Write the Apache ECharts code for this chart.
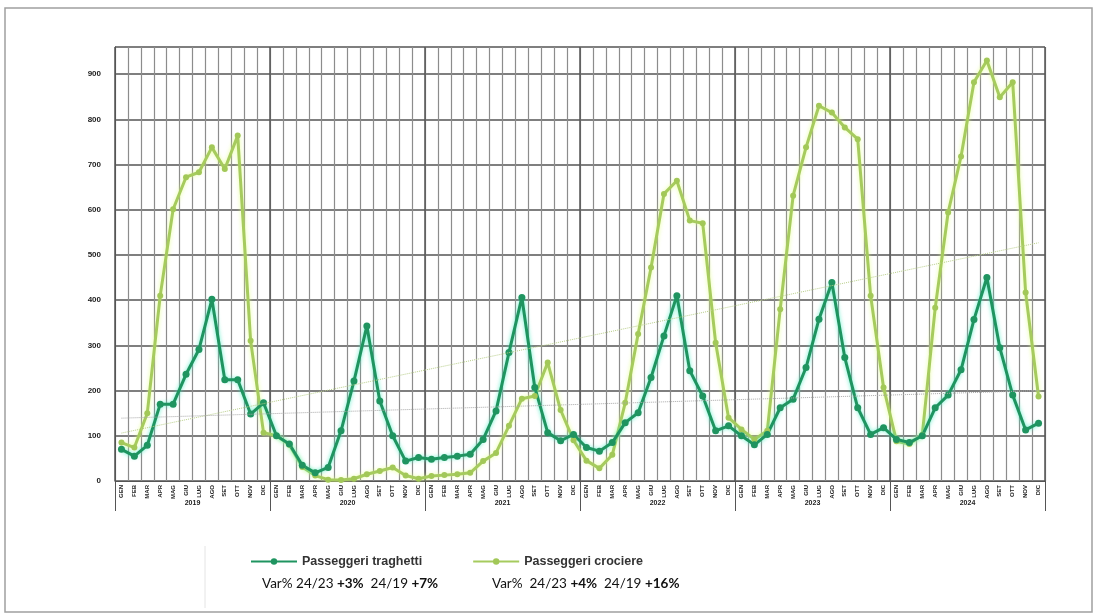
<!DOCTYPE html>
<html>
<head>
<meta charset="utf-8">
<script src="https://cdn.jsdelivr.net/npm/echarts@6/dist/echarts.min.js"></script>
<style>
html, body { margin: 0; padding: 0; background: #fff; }
#chart { width: 1097px; height: 614px; }
</style>
</head>
<body>
<div id="chart"></div>
<script>
const years = ['2019', '2020', '2021', '2022', '2023', '2024']
const months = ['GEN', 'FEB', 'MAR', 'APR', 'MAG', 'GIU', 'LUG', 'AGO', 'SET', 'OTT', 'NOV', 'DIC']

// migliaia di passeggeri, mese per mese 2019-2024
const traghetti = [
  70, 55, 79, 170, 170, 236, 291, 402, 224, 224, 148, 173,
  100, 82, 35, 18, 30, 111, 221, 343, 177, 100, 44, 52,
  48, 52, 55, 59, 92, 155, 284, 406, 207, 107, 89, 103,
  74, 66, 85, 129, 151, 229, 321, 410, 244, 188, 111, 122,
  100, 80, 103, 162, 181, 251, 358, 439, 273, 162, 103, 118,
  92, 85, 100, 162, 190, 246, 357, 450, 295, 190, 113, 128
]
const crociere = [
  85, 74, 150, 410, 601, 672, 683, 738, 690, 764, 310, 107,
  100, 80, 31, 12, 3, 2, 5, 15, 22, 30, 12, 5,
  11, 13, 15, 18, 44, 62, 122, 182, 188, 262, 157, 90,
  45, 28, 58, 173, 325, 472, 635, 664, 576, 570, 306, 140,
  114, 92, 111, 380, 631, 738, 830, 815, 782, 756, 410, 207,
  88, 82, 102, 383, 594, 718, 882, 930, 849, 882, 417, 187
]
// linee di tendenza (inizio, fine)
const trendTraghetti = [139, 200]
const trendCrociere = [106, 527]

const varTraghetti = ['+3%', '+7%']
const varCrociere = ['+4%', '+16%']

const chart = echarts.init(document.getElementById('chart'))

let categories = []
years.forEach((y) => {
  months.forEach((m) => {
    categories.push(m + '|' + y)
  })
})
const first = categories[0]
const last = categories[categories.length - 1]

function trendLine(vals, color) {
  return {
    silent: true,
    symbol: 'none',
    label: { show: false },
    lineStyle: { type: 'dotted', width: 1, color: color },
    data: [[{ coord: [first, vals[0]] }, { coord: [last, vals[1]] }]]
  }
}

let option = {
  backgroundColor: '#fff',
  animation: false,
  grid: {
    left: 115,
    right: 52,
    top: 47,
    bottom: 133
  },
  legend: {
    data: ['Passeggeri traghetti', 'Passeggeri crociere'],
    left: 245,
    top: 550,
    itemWidth: 46,
    itemHeight: 8,
    itemGap: 50,
    textStyle: {
      fontFamily: 'Liberation Sans',
      fontWeight: 'bold',
      fontSize: 12.5,
      color: '#333'
    }
  },
  xAxis: [
    {
      type: 'category',
      data: categories,
      boundaryGap: true,
      axisLine: { lineStyle: { color: '#555' } },
      axisTick: { show: false },
      splitLine: {
        show: true,
        interval: 0,
        lineStyle: { color: '#8c8c8c', width: 1.2 }
      },
      axisLabel: {
        interval: 0,
        rotate: 90,
        margin: 4,
        fontSize: 6,
        fontWeight: 'bold',
        color: '#222',
        formatter: (v) => v.split('|')[0]
      }
    },
    {
      type: 'category',
      data: years,
      position: 'bottom',
      boundaryGap: true,
      axisLine: { show: false },
      axisTick: {
        show: true,
        interval: 0,
        length: 30,
        lineStyle: { color: '#555' }
      },
      splitLine: {
        show: true,
        interval: 0,
        lineStyle: { color: '#555', width: 1.5 }
      },
      axisLabel: {
        margin: 19,
        fontSize: 7,
        fontWeight: 'bold',
        color: '#222'
      }
    }
  ],
  yAxis: {
    type: 'value',
    min: 0,
    max: 960,
    interval: 100,
    axisLine: { show: true, lineStyle: { color: '#555' } },
    axisTick: { show: false },
    splitLine: { lineStyle: { color: '#555', width: 1.5 } },
    axisLabel: {
      margin: 14,
      fontSize: 8,
      fontWeight: 'bold',
      color: '#222',
      showMaxLabel: false
    }
  },
  series: [
    {
      name: 'Passeggeri crociere',
      type: 'line',
      data: crociere,
      symbol: 'circle',
      symbolSize: 6,
      lineStyle: {
        color: '#a6cb5e',
        width: 3,
        shadowColor: 'rgba(225,255,130,0.8)',
        shadowBlur: 4
      },
      itemStyle: { color: '#a2c858' },
      markLine: trendLine(trendCrociere, '#b9cf8a')
    },
    {
      name: 'Passeggeri traghetti',
      type: 'line',
      data: traghetti,
      symbol: 'circle',
      symbolSize: 7,
      lineStyle: {
        color: '#1f9460',
        width: 3,
        shadowColor: 'rgba(60,235,190,0.8)',
        shadowBlur: 4
      },
      itemStyle: { color: '#1f9460' },
      markLine: trendLine(trendTraghetti, '#a9a9a9')
    }
  ],
  graphic: [
    {
      type: 'rect',
      shape: { x: 5, y: 8, width: 1087, height: 604 },
      style: { fill: 'none', stroke: '#a0a0a0', lineWidth: 1.5 },
      silent: true
    },
    {
      type: 'line',
      shape: { x1: 205, y1: 546, x2: 205, y2: 608 },
      style: { stroke: '#e4e4e4', lineWidth: 1 },
      silent: true
    },
    {
      type: 'text',
      left: 262,
      top: 577,
      style: {
        text: 'Var% 24/23 {b|' + varTraghetti[0] + '}  24/19 {b|' + varTraghetti[1] + '}',
        font: '13.5px Lato',
        fill: '#111',
        rich: { b: { fontWeight: 'bold', fontFamily: 'Lato', fontSize: 13.5, fill: '#111' } }
      }
    },
    {
      type: 'text',
      left: 492,
      top: 577,
      style: {
        text: 'Var%  24/23 {b|' + varCrociere[0] + '}  24/19 {b|' + varCrociere[1] + '}',
        font: '13.5px Lato',
        fill: '#111',
        rich: { b: { fontWeight: 'bold', fontFamily: 'Lato', fontSize: 13.5, fill: '#111' } }
      }
    }
  ]
}
chart.setOption(option)
</script>
</body>
</html>
